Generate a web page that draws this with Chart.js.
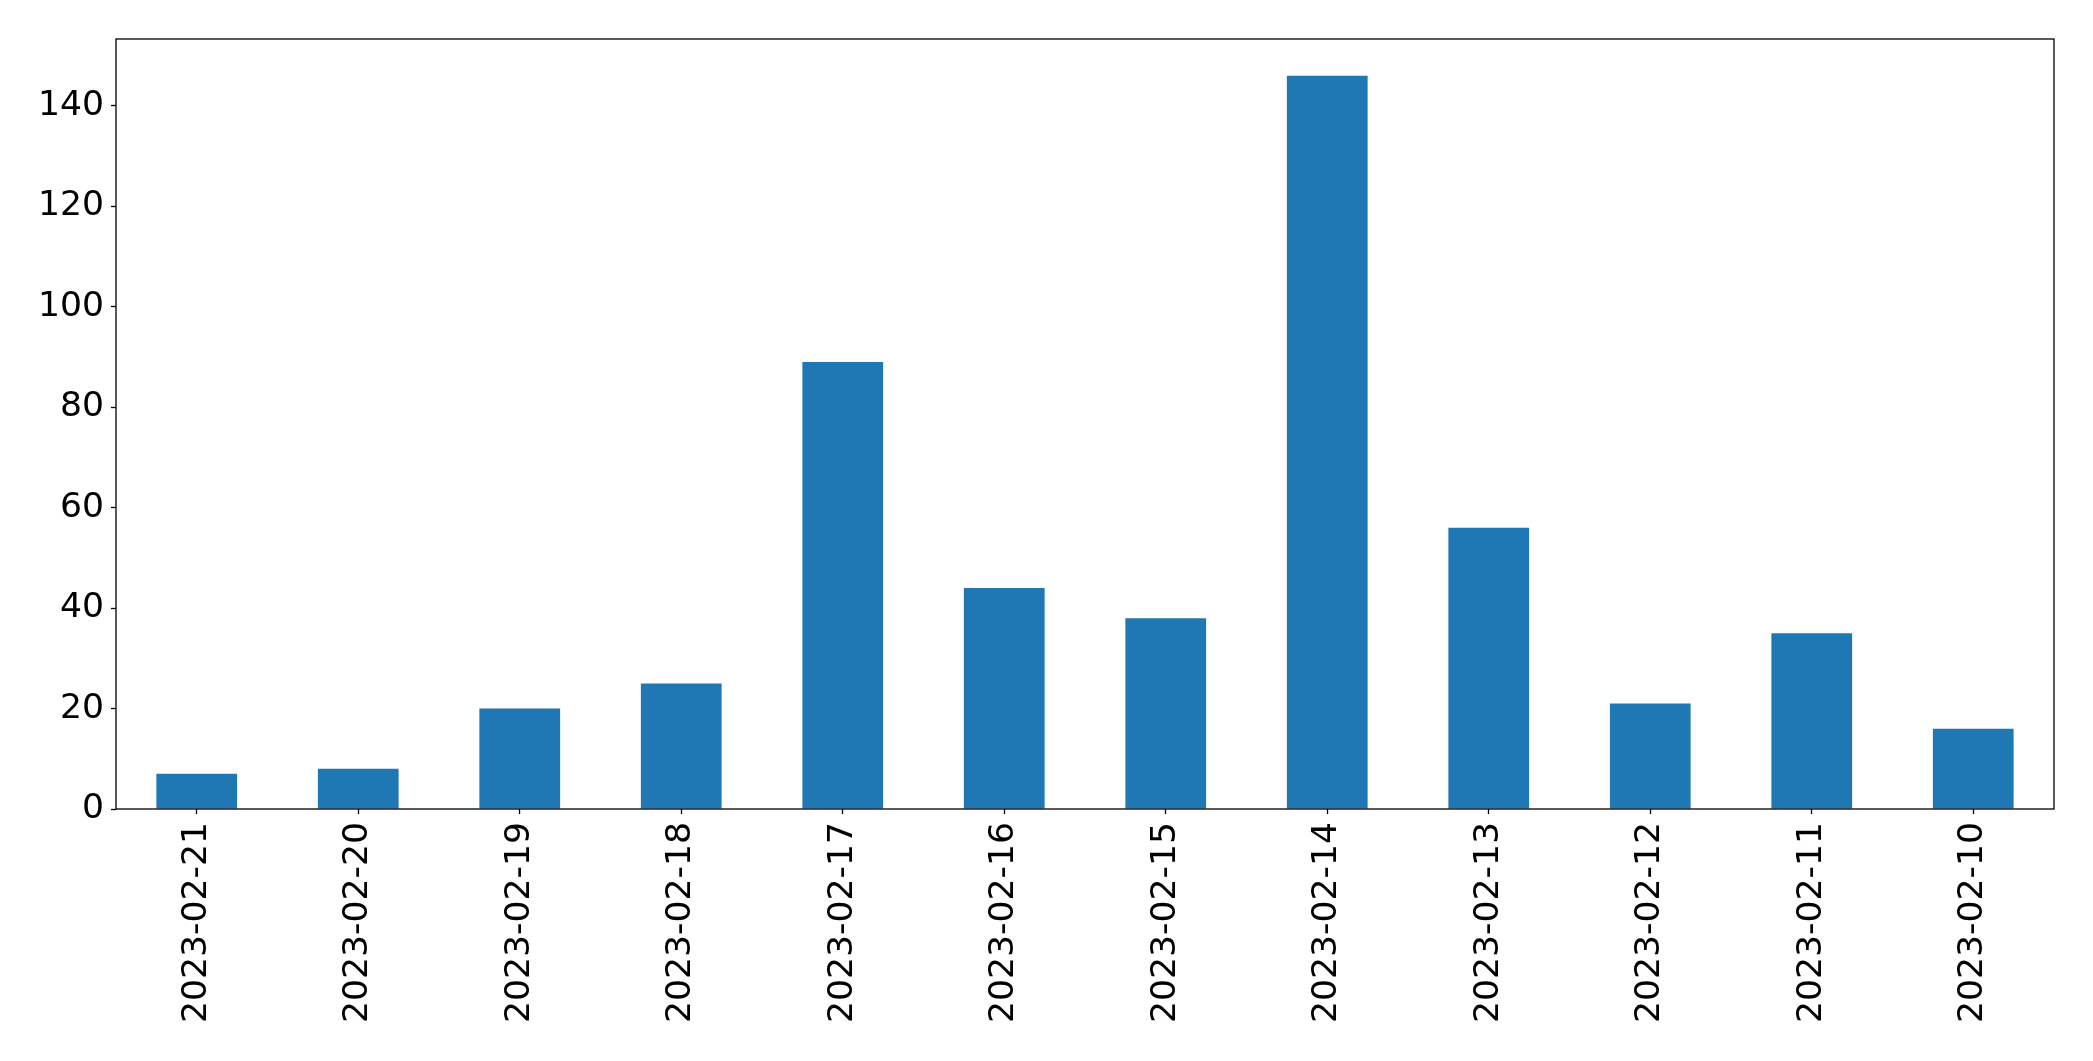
<!DOCTYPE html>
<html>
<head>
<meta charset="utf-8">
<script src="https://cdn.jsdelivr.net/npm/chart.js@4"></script>
<style>
  html, body { margin: 0; padding: 0; background: #fff; }
  #wrap { width: 2093px; height: 1061px; position: relative; }
</style>
</head>
<body>
<div id="wrap"><canvas id="c"></canvas></div>
<script>
const dates = ['2023-02-21', '2023-02-20', '2023-02-19', '2023-02-18', '2023-02-17', '2023-02-16',
               '2023-02-15', '2023-02-14', '2023-02-13', '2023-02-12', '2023-02-11', '2023-02-10']
const counts = [7, 8, 20, 25, 89, 44, 38, 146, 56, 21, 35, 16]
const yTicks = [0, 20, 40, 60, 80, 100, 120, 140]

const font = { family: 'DejaVu Sans', size: 34.6 }

// black frame round the plot area, like matplotlib's spines
const frame = {
    id: 'frame',
    afterDraw(chart) {
        const a = chart.chartArea, ctx = chart.ctx
        ctx.save()
        ctx.strokeStyle = '#000'
        ctx.lineWidth = 1.3
        ctx.strokeRect(a.left, a.top, a.right - a.left, a.bottom - a.top)
        ctx.restore()
    }
}

new Chart(document.getElementById('c'), {
    type: 'bar',
    data: {
        labels: dates,
        datasets: [{
            data: counts,
            backgroundColor: '#1f77b4',
            barPercentage: 0.5,
            categoryPercentage: 1.0
        }]
    },
    options: {
        responsive: true,
        maintainAspectRatio: false,
        animation: false,
        layout: { padding: { top: 39, right: 39, left: 0, bottom: 0 } },
        plugins: { legend: { display: false }, tooltip: { enabled: false } },
        scales: {
            x: {
                grid: { display: true, offset: false, drawOnChartArea: false, tickLength: 5, tickColor: '#000', tickWidth: 1.3 },
                border: { display: false },
                ticks: { color: '#000', font: font, minRotation: 90, maxRotation: 90, padding: 8, autoSkip: false },
                afterFit(s) { s.height = 252 }
            },
            y: {
                min: 0,
                max: Math.max(...counts) * 1.05,
                grid: { display: true, drawOnChartArea: false, tickLength: 5, tickColor: '#000', tickWidth: 1.3 },
                border: { display: false },
                afterBuildTicks(s) { s.ticks = yTicks.map(v => ({ value: v })) },
                ticks: { color: '#000', font: font, padding: 7 },
                afterFit(s) { s.width = 116 }
            }
        }
    },
    plugins: [frame]
})
</script>
</body>
</html>
